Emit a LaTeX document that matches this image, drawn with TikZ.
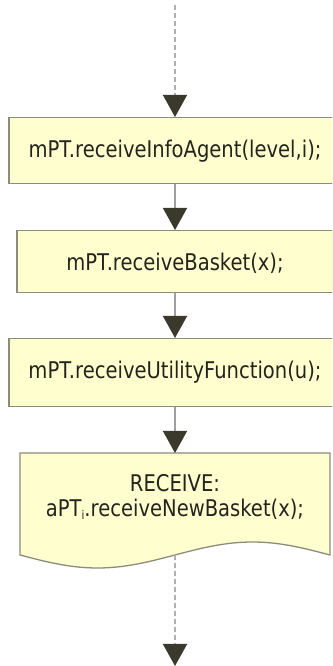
\documentclass[tikz,border=0pt]{standalone}
\usepackage{fontspec}
\setmainfont{DejaVu Sans}[FakeStretch=0.85]
\usetikzlibrary{arrows.meta}

\definecolor{boxfill}{RGB}{254,254,206}
\definecolor{boxline}{RGB}{140,140,124}
\definecolor{tipfill}{RGB}{58,58,44}
\definecolor{linkline}{RGB}{160,160,160}
\definecolor{dashline}{RGB}{176,176,176}
\definecolor{textcol}{RGB}{36,36,30}

\tikzset{
  stepbox/.style={draw=boxline, fill=boxfill, line width=1.3pt,
    inner xsep=0pt, inner ysep=0pt, text=textcol, anchor=north,
    font=\fontsize{23}{25}\selectfont},
  docbox/.style={draw=boxline, fill=boxfill, line width=1.3pt},
  tipstyle/.style={-{Triangle[width=24pt,length=22pt,color=tipfill]}},
  link/.style={tipstyle, draw=linkline, line width=1.5pt},
  dlink/.style={tipstyle, draw=dashline, line width=1.5pt,
    dash pattern=on 5pt off 3pt},
}

\begin{document}
\begin{tikzpicture}[x=1pt,y=1pt]
\useasboundingbox (0,0) rectangle (332,666);
\clip (0,0) rectangle (332,666);

% process steps
\node[stepbox, minimum width=332pt, text height=40pt, text depth=26pt]
  (b1) at (175,549) {mPT.receiveInfoAgent(level,i);};
\node[stepbox, minimum width=316pt, text height=40pt, text depth=22pt]
  (b2) at (175,436) {mPT.receiveBasket(x);};
\node[stepbox, minimum width=332pt, text height=40pt, text depth=28pt]
  (b3) at (175,328) {mPT.receiveUtilityFunction(u);};

% receive step drawn as a document shape with a wavy lower edge
\draw[docbox] (20,213) -- (330,213) -- (330,111)
  -- plot[domain=1:0, samples=61, variable=\t] ({20+310*\t},{111-13*sin(360*\t)})
  -- cycle;
\coordinate (b4top) at (175,213);
\coordinate (b4out) at (175,111);
\node[text=textcol, align=center, inner sep=0pt,
  font=\fontsize{23}{25}\selectfont] (b4) at (175,169)
  {RECEIVE:\\aPT\raisebox{-2.5pt}{\fontsize{12}{12}\selectfont i}.receiveNewBasket(x);};

% flow in and out
\coordinate (flowin) at (175,661);
\coordinate (flowout) at (175,0);

\draw[dlink] (flowin) -- (b1.north);
\draw[link] (b1.south) -- (b2.north);
\draw[link] (b2.south) -- (b3.north);
\draw[link] (b3.south) -- (b4top);
\draw[dlink] (b4out) -- (flowout);
\end{tikzpicture}
\end{document}
